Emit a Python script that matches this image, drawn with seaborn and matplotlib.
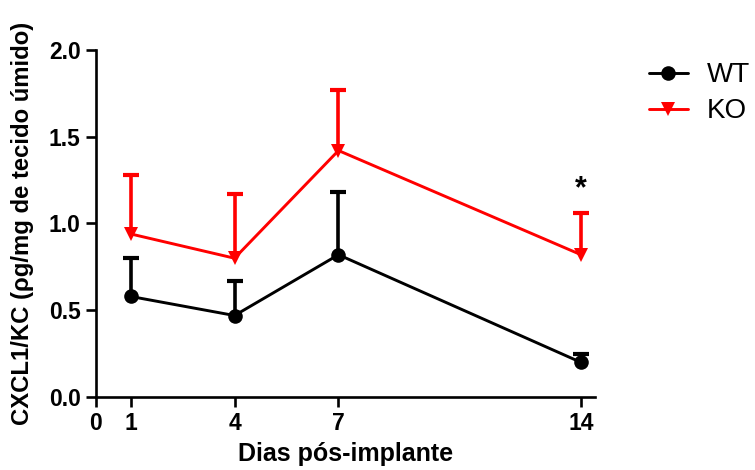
import pandas as pd
import matplotlib.pyplot as plt
import seaborn as sns

# Data
days = [1, 4, 7, 14]
wt_mean = [0.58, 0.47, 0.82, 0.20]
wt_err = [0.22, 0.20, 0.36, 0.05]
ko_mean = [0.94, 0.80, 1.42, 0.82]
ko_err = [0.34, 0.37, 0.35, 0.24]
x_ticks = [0, 1, 4, 7, 14]
y_ticks = [0.0, 0.5, 1.0, 1.5, 2.0]

df = pd.DataFrame({
    'dia': days + days,
    'valor': wt_mean + ko_mean,
    'grupo': ['WT'] * len(days) + ['KO'] * len(days),
})

sns.set_style("ticks")
plt.rcParams['font.family'] = ['Liberation Sans', 'DejaVu Sans']
plt.rcParams['font.weight'] = 'bold'
for k in ['text.color', 'axes.labelcolor', 'xtick.color', 'ytick.color', 'axes.edgecolor']:
    plt.rcParams[k] = 'black'

fig = plt.figure(figsize=(7.55, 4.7), dpi=100)
ax = fig.add_axes([0.127, 0.155, 0.661, 0.739])

colors = {'WT': 'black', 'KO': '#ff0000'}

# error bars (upper only, no lower cap)
for mean, err, c in [(wt_mean, wt_err, 'black'), (ko_mean, ko_err, '#ff0000')]:
    eb = ax.errorbar(days, mean, yerr=[[0] * len(days), err], fmt='none', ecolor=c,
                     elinewidth=2.6, capsize=6, capthick=3, zorder=2, clip_on=False)
    eb[1][0].set_visible(False)

sns.lineplot(data=df, x='dia', y='valor', hue='grupo', style='grupo',
             palette=colors, markers={'WT': 'o', 'KO': 'v'}, dashes=False,
             markersize=10.5, linewidth=2.1, markeredgewidth=0, ax=ax,
             zorder=3, clip_on=False)

ax.text(14, 1.2, '*', ha='center', va='center', fontsize=22, fontweight='bold')

ax.set_xlim(0, 14.4)
ax.set_ylim(0, 2.0)
ax.set_xticks(x_ticks)
ax.set_xticklabels([str(t) for t in x_ticks], fontsize=16.5, fontweight='bold')
ax.set_yticks(y_ticks)
ax.set_yticklabels([f'{t:.1f}' for t in y_ticks], fontsize=16.5, fontweight='bold')
ax.tick_params(axis='both', length=7, width=1.9, direction='out', pad=4)
ax.set_xlabel('Dias pós-implante', fontsize=18, fontweight='bold')
ax.set_ylabel('CXCL1/KC (ρg/mg de tecido úmido)', fontsize=17.2, fontweight='bold')
ax.xaxis.set_label_coords(0.5, -0.128)
ax.yaxis.set_label_coords(-0.124, 0.5)
for s in ['left', 'bottom']:
    ax.spines[s].set_linewidth(1.9)
sns.despine(ax=ax)

leg = ax.legend(loc='upper left', bbox_to_anchor=(1.058, 1.036), frameon=False,
                fontsize=20, handlelength=1.4, handletextpad=0.7, labelspacing=0.36)
for t in leg.get_texts():
    t.set_fontweight('normal')

fig.savefig('out.png', dpi=100)
